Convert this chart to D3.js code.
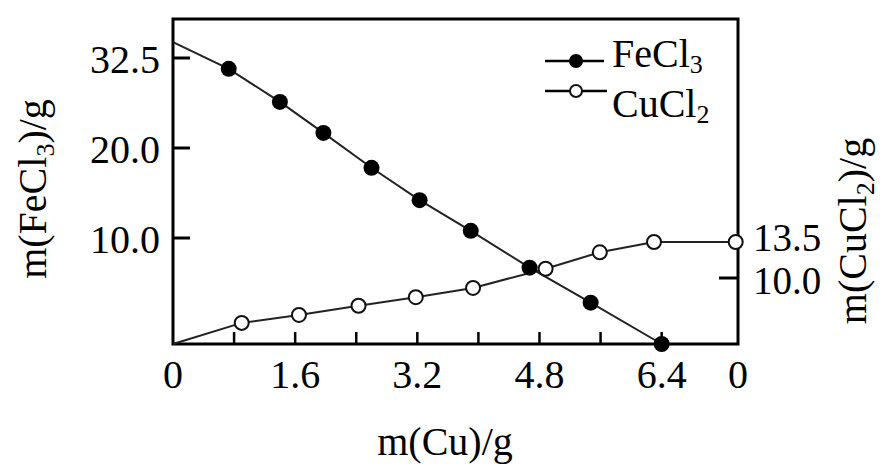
<!DOCTYPE html>
<html>
<head>
<meta charset="utf-8">
<script src="https://cdn.jsdelivr.net/npm/d3@7"></script>
<style>
  body { margin: 0; background: #fff; }
  text { font-family: "Liberation Serif", "Times New Roman", serif; fill: #000; }
</style>
</head>
<body>
<div id="my-chart"></div>
<script>
// data
var feX = [0, 0.73, 1.40, 1.97, 2.60, 3.23, 3.90, 4.67, 5.47, 6.40];
var feY = [34.7, 31.0, 26.4, 22.1, 17.8, 14.2, 10.8, 7.2, 3.9, 0];
var cuX = [0, 0.90, 1.65, 2.43, 3.18, 3.93, 4.88, 5.59, 6.30, 7.37];
var cuY = [0, 3.2, 4.4, 5.8, 7.1, 8.5, 10.9, 12.5, 13.5, 13.5];
var xTicks = [0.8, 1.6, 2.4, 3.2, 4.0, 4.8, 5.6, 6.4];
var xLabels = [0, 1.6, 3.2, 4.8, 6.4];
var leftTicks = [32.5, 20.0, 10.0];
var rightTicks = [10.0];
var rightLabels = [13.5, 10.0];

var width = 882, height = 466;
var L = 173, R = 738, T = 19, B = 344;

var svg = d3.select('#my-chart').append('svg')
    .attr('width', width)
    .attr('height', height);

var x = d3.scaleLinear().domain([0, 7.4]).range([L, R]);
// the figure's axes are not evenly spaced, so use piecewise scales
var yL = d3.scaleLinear().domain([0, 10, 20, 32.5]).range([B, 238, 148, 58]);
var yR = d3.scaleLinear().domain([0, 10, 13.5]).range([B, 278, 242]);

// frame
svg.append('rect')
    .attr('x', L).attr('y', T)
    .attr('width', R - L).attr('height', B - T)
    .attr('fill', 'none').attr('stroke', '#000').attr('stroke-width', 3);

// inward ticks
svg.selectAll('.xt').data(xTicks).enter().append('line')
    .attr('x1', function(d) { return x(d); }).attr('x2', function(d) { return x(d); })
    .attr('y1', B).attr('y2', B - 12)
    .attr('stroke', '#000').attr('stroke-width', 2.5);
svg.selectAll('.lt').data(leftTicks).enter().append('line')
    .attr('x1', L).attr('x2', L + 17)
    .attr('y1', function(d) { return yL(d); }).attr('y2', function(d) { return yL(d); })
    .attr('stroke', '#000').attr('stroke-width', 3);
svg.selectAll('.rt').data(rightTicks).enter().append('line')
    .attr('x1', R - 19).attr('x2', R)
    .attr('y1', function(d) { return yR(d); }).attr('y2', function(d) { return yR(d); })
    .attr('stroke', '#000').attr('stroke-width', 3);

// tick labels
svg.selectAll('.xl').data(xLabels).enter().append('text')
    .attr('x', function(d) { return x(d); })
    .attr('y', 388)
    .attr('text-anchor', 'middle')
    .style('font-size', '40px')
    .text(function(d) { return d === 0 ? '0' : d.toFixed(1); });
svg.append('text')   // the right axis' zero sits under the corner
    .attr('x', x(7.4)).attr('y', 388)
    .attr('text-anchor', 'middle')
    .style('font-size', '40px')
    .text('0');
svg.selectAll('.ll').data(leftTicks).enter().append('text')
    .attr('x', 160)
    .attr('y', function(d) { return yL(d) + 15; })
    .attr('text-anchor', 'end')
    .style('font-size', '40px')
    .text(function(d) { return d.toFixed(1); });
svg.selectAll('.rl').data(rightLabels).enter().append('text')
    .attr('x', 753)
    .attr('y', function(d, i) { return i === 0 ? yR(d) + 9 : yR(d) + 16; })
    .style('font-size', '39px')
    .text(function(d) { return d.toFixed(1); });

// axis titles
svg.append('text')
    .attr('x', 445).attr('y', 455)
    .attr('text-anchor', 'middle')
    .style('font-size', '40px')
    .text('m(Cu)/g');

function chemTitle(g, base, sub) {
    g.append('tspan').text(base);
    g.append('tspan').attr('dy', 8).style('font-size', '26px').text(sub);
    g.append('tspan').attr('dy', -8).text(')/g');
}
var lt = svg.append('text')
    .attr('transform', 'translate(46,189) rotate(-90)')
    .attr('text-anchor', 'middle')
    .style('font-size', '40px');
chemTitle(lt, 'm(FeCl', '3');
var rt = svg.append('text')
    .attr('transform', 'translate(866,231) rotate(-90)')
    .attr('text-anchor', 'middle')
    .style('font-size', '40px');
chemTitle(rt, 'm(CuCl', '2');

// lines
var lineFe = d3.line().x(function(d) { return x(d[0]); }).y(function(d) { return yL(d[1]); });
var lineCu = d3.line().x(function(d) { return x(d[0]); }).y(function(d) { return yR(d[1]); });
var feData = d3.zip(feX, feY), cuData = d3.zip(cuX, cuY);

svg.append('path').datum(feData).attr('d', lineFe)
    .attr('fill', 'none').attr('stroke', '#222').attr('stroke-width', 2);
svg.append('path').datum(cuData).attr('d', lineCu)
    .attr('fill', 'none').attr('stroke', '#222').attr('stroke-width', 2);

// points (first one is the line start, no marker)
svg.selectAll('.cu').data(cuData.slice(1)).enter().append('circle')
    .attr('r', 7)
    .attr('cx', function(d) { return x(d[0]); })
    .attr('cy', function(d) { return yR(d[1]); })
    .attr('fill', '#fff').attr('stroke', '#111').attr('stroke-width', 2);
svg.selectAll('.fe').data(feData.slice(1)).enter().append('circle')
    .attr('r', 8)
    .attr('cx', function(d) { return x(d[0]); })
    .attr('cy', function(d) { return yL(d[1]); })
    .style('fill', '#000');

// legend
var leg = svg.append('g');
leg.append('line').attr('x1', 545).attr('x2', 604).attr('y1', 61).attr('y2', 61)
    .attr('stroke', '#000').attr('stroke-width', 2.5);
leg.append('circle').attr('cx', 576).attr('cy', 61).attr('r', 7).style('fill', '#000');
leg.append('line').attr('x1', 545).attr('x2', 607).attr('y1', 91).attr('y2', 91)
    .attr('stroke', '#000').attr('stroke-width', 2.5);
leg.append('circle').attr('cx', 576).attr('cy', 91).attr('r', 6)
    .attr('fill', '#fff').attr('stroke', '#111').attr('stroke-width', 2);
var t1 = leg.append('text').attr('x', 612).attr('y', 67).style('font-size', '40px');
t1.append('tspan').text('FeCl');
t1.append('tspan').attr('dy', 6).style('font-size', '26px').text('3');
var t2 = leg.append('text').attr('x', 612).attr('y', 117).style('font-size', '40px');
t2.append('tspan').text('CuCl');
t2.append('tspan').attr('dy', 6).style('font-size', '26px').text('2');
</script>
</body>
</html>
